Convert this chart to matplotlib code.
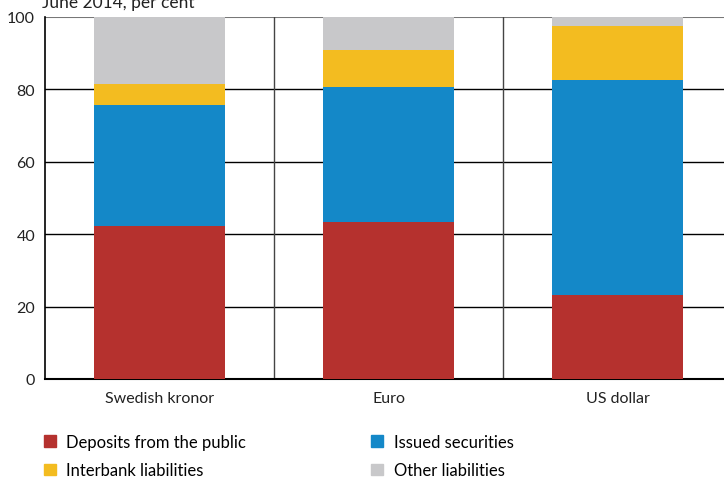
import matplotlib.pyplot as plt
from matplotlib.patches import Patch
import numpy as np

plt.rcParams['font.family'] = ['Lato', 'DejaVu Sans']

categories = ['Swedish kronor', 'Euro', 'US dollar']
deposits = [42.3, 43.4, 23.2]
issued = [33.4, 37.3, 59.4]
interbank = [5.8, 10.2, 14.9]
other = [18.5, 9.1, 2.5]

series = [
    ('Deposits from the public', deposits, '#b5312e'),
    ('Issued securities', issued, '#1488c8'),
    ('Interbank liabilities', interbank, '#f3bc20'),
    ('Other liabilities', other, '#c8c8ca'),
]

fig = plt.figure(figsize=(7.24, 4.81), dpi=100)
ax = fig.add_axes([0.062, 0.21, 0.938, 0.7526])

x = np.arange(len(categories))
bottom = np.zeros(len(categories))
handles = {}
for name, vals, color in series:
    ax.bar(x, vals, width=0.57, bottom=bottom, color=color, zorder=3)
    bottom += np.array(vals)
    handles[name] = Patch(color=color, label=name)

# horizontal grid lines
for yv in [20, 40, 60, 80]:
    ax.axhline(yv, color='black', lw=1.0, zorder=1)
ax.axhline(100, color='#777777', lw=1.5, zorder=1)
# category separators
for xv in [0.5, 1.5]:
    ax.axvline(xv, color='#444444', lw=1.0, zorder=1)

ax.set_xlim(-0.5, 2.464)
ax.set_ylim(0, 100)
ax.set_yticks([0, 20, 40, 60, 80, 100])
ax.set_xticks(x)
ax.set_xticklabels(categories)
ax.tick_params(axis='both', length=0, labelsize=11.5, colors='#222222')
ax.tick_params(axis='x', pad=9)
ax.tick_params(axis='y', pad=7)

for s in ['top', 'right']:
    ax.spines[s].set_visible(False)
ax.spines['left'].set_linewidth(1.2)
ax.spines['bottom'].set_linewidth(1.5)

fig.text(0.058, 0.993, 'June 2014, per cent', fontsize=12.5, color='#222222', va='center')

order = ['Deposits from the public', 'Interbank liabilities', 'Issued securities', 'Other liabilities']
fig.legend(handles=[handles[n] for n in order], ncol=2, loc='lower left',
           bbox_to_anchor=(0.04, -0.028), frameon=False, fontsize=12,
           handlelength=0.7, handleheight=0.7, handletextpad=0.65,
           columnspacing=7.5, labelspacing=0.75)

fig.savefig('out.png', dpi=100)
